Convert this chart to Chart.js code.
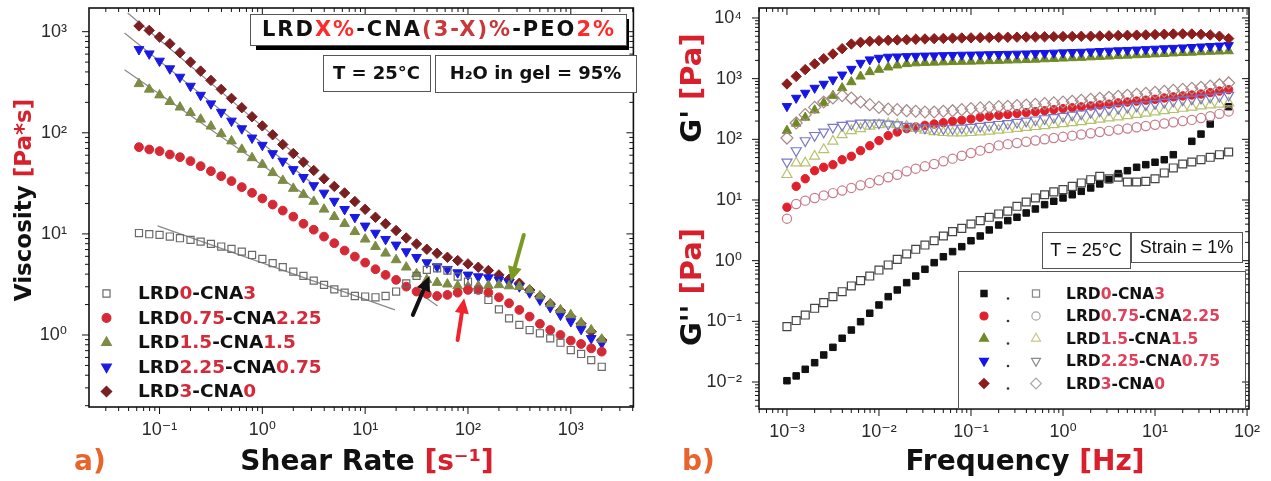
<!DOCTYPE html>
<html>
<head>
<meta charset="utf-8">
<script src="https://cdn.jsdelivr.net/npm/chart.js@4.4.1/dist/chart.umd.min.js"></script>
<style>
html, body { margin: 0; padding: 0; background: #fff; }
#wrap { position: relative; width: 1271px; height: 481px; overflow: hidden; }
#left { position: absolute; left: 0; top: 0; }
#right { position: absolute; left: 640px; top: 0; }
</style>
</head>
<body>
<div id="wrap">
  <canvas id="left" width="640" height="481"></canvas>
  <canvas id="right" width="631" height="481"></canvas>
</div>
<script>
// ---- panel a) viscosity vs shear rate ----
var shearRate = [0.0631, 0.0794, 0.1, 0.126, 0.158, 0.2, 0.251, 0.316, 0.398, 0.501, 0.631, 0.794, 1, 1.26, 1.58, 2, 2.51, 3.16, 3.98, 5.01, 6.31, 7.94, 10, 12.6, 15.8, 20, 25.1, 31.6, 39.8, 50.1, 63.1, 79.4, 100, 126, 158, 200, 251, 316, 398, 501, 631, 794, 1000, 1260, 1580, 2000];
var viscLRD0 = [10.2, 9.93, 9.77, 9.42, 9.06, 8.73, 8.39, 7.96, 7.50, 7.10, 6.68, 6.19, 5.65, 5.13, 4.68, 4.24, 3.84, 3.45, 3.13, 2.83, 2.62, 2.43, 2.40, 2.36, 2.43, 2.69, 3.24, 3.84, 4.41, 4.57, 4.34, 3.78, 3.37, 2.79, 2.22, 1.79, 1.46, 1.26, 1.12, 1.04, 0.927, 0.839, 0.710, 0.649, 0.565, 0.485];
var viscLRD075 = [72.1, 68.4, 65.9, 61.0, 57.4, 52.5, 46.8, 41.7, 37.2, 33.3, 29.0, 25.5, 22.4, 19.5, 17.0, 14.8, 12.6, 11.0, 9.40, 8.09, 6.84, 5.96, 5.20, 4.47, 3.93, 3.51, 3.01, 2.69, 2.55, 2.43, 2.49, 2.62, 2.79, 2.79, 2.62, 2.36, 2.06, 1.77, 1.52, 1.29, 1.12, 1.00, 0.879, 0.815, 0.738, 0.684];
var viscLRD15 = [305, 269, 236, 203, 179, 158, 136, 116, 97.7, 82.8, 68.4, 56.5, 48.5, 40.2, 33.7, 28.1, 24.5, 20.9, 17.5, 14.8, 12.6, 10.5, 8.85, 7.48, 6.43, 5.53, 4.68, 4.02, 3.51, 3.30, 3.18, 3.05, 3.01, 3.05, 3.08, 3.13, 3.05, 3.01, 2.79, 2.43, 2.03, 1.77, 1.58, 1.32, 1.12, 0.906];
var viscLRD225 = [668, 605, 513, 431, 356, 290, 236, 194, 160, 131, 110, 89.1, 75.5, 62.4, 52.5, 43.4, 36.3, 30.1, 25.4, 21.1, 17.5, 14.6, 12.0, 10.2, 8.85, 7.78, 6.68, 5.87, 5.20, 4.74, 4.47, 4.14, 3.93, 3.78, 3.69, 3.51, 3.30, 3.01, 2.62, 2.22, 1.88, 1.58, 1.36, 1.14, 0.927, 0.828];
var viscLRD3 = [1140, 1030, 885, 760, 619, 501, 408, 330, 269, 219, 177, 144, 117, 95.5, 76.6, 62.4, 51.3, 42.4, 35.1, 29.5, 25.4, 20.9, 17.5, 14.6, 12.6, 10.8, 9.12, 7.96, 7.05, 6.43, 5.87, 5.45, 5.05, 4.68, 4.34, 3.93, 3.56, 3.25, 2.79, 2.40, 2.03, 1.74, 1.52, 1.29, 1.08, 0.89];
// grey power-law guide lines [[x0, y0], [x1, y1]]
var fitLRD3 = [[0.049, 1530], [3, 45]];
var fitLRD225 = [[0.0456, 971], [3, 32]];
var fitLRD15 = [[0.0456, 421], [3, 22]];
var fitLRD0 = [[0.0957, 12.0], [19.5, 1.77]];
var fitShort = [[37.8, 2.39], [50.7, 1.94]];
// arrows [tail, head]
var arrowBlack = [[29.1, 1.58], [42.2, 3.83]];
var arrowRed = [[79.3, 0.893], [91.8, 2.31]];
var arrowGreen = [[349, 9.75], [261, 3.37]];
var shearTicks = [0.1, 1, 10, 100, 1000];
var viscTicks = [1, 10, 100, 1000];

// ---- panel b) G', G'' vs frequency ----
var freq = [0.001, 0.00126, 0.00158, 0.002, 0.00251, 0.00316, 0.00398, 0.00501, 0.00631, 0.00794, 0.01, 0.0126, 0.0158, 0.02, 0.0251, 0.0316, 0.0398, 0.0501, 0.0631, 0.0794, 0.1, 0.126, 0.158, 0.2, 0.251, 0.316, 0.398, 0.501, 0.631, 0.794, 1, 1.26, 1.58, 2, 2.51, 3.16, 3.98, 5.01, 6.31, 7.94, 10, 12.6, 15.8, 20, 25.1, 31.6, 39.8, 50.1, 63.1];
var gp0 = [0.0105, 0.0126, 0.0162, 0.0208, 0.0279, 0.0373, 0.0526, 0.0719, 0.0986, 0.136, 0.186, 0.255, 0.329, 0.434, 0.558, 0.721, 0.927, 1.16, 1.41, 1.70, 2.13, 2.55, 3.21, 3.87, 4.57, 5.19, 6.11, 7.11, 8.38, 9.53, 10.8, 12.2, 13.9, 15.8, 18.4, 21.6, 27.2, 30.4, 34.6, 38.2, 41.9, 46.1, 55.8, null, 92.7, 122, 179, null, 345];
var gpp0 = [0.0817, 0.103, 0.127, 0.164, 0.203, 0.255, 0.308, 0.383, 0.468, 0.558, 0.701, 0.849, 1.05, 1.29, 1.54, 1.81, 2.13, 2.55, 3.01, 3.41, 4.02, 4.56, 5.19, 5.89, 6.56, 7.87, 9.27, 10.8, 12.2, 13.6, 14.8, 16.8, 19.1, 21.6, 24.5, 22.4, 23.7, 19.8, 19.8, 20.3, 22.4, 27.9, 33.7, 39.2, 42.3, 46.1, 50.6, 55.8, 61.8];
var gp075 = [7.59, 16.8, 22.4, 30.4, 34.6, 38.2, 46.1, 52.5, 65.0, 78.5, 95.1, 115, 132, 150, 160, 170, 179, 188, 198, 206, 216, 231, 240, 249, 257, 266, 275, 285, 295, 308, 320, 331, 343, 355, 367, 380, 398, 412, 427, 442, 457, 480, 501, 519, 537, 558, 589, 624, 658];
var gpp075 = [4.92, 8.59, 9.75, 10.8, 11.9, 13.0, 14.3, 15.8, 17.5, 19.1, 21.1, 23.7, 26.1, 29.7, 32.8, 35.9, 39.2, 43.4, 48.0, 53.7, 59.6, 65.0, 71.9, 79.4, 83.2, 87.1, 91.2, 95.5, 100, 105, 110, 115, 120, 126, 132, 138, 145, 151, 158, 166, 174, 182, 191, 200, 209, 224, 240, 263, 288];
var gp15 = [139, 182, 229, 302, 398, 525, 702, 881, 1090, 1290, 1410, 1540, 1660, 1750, 1800, 1830, 1850, 1870, 1890, 1910, 1920, 1940, 1960, 1980, 2000, 2020, 2040, 2070, 2100, 2130, 2160, 2190, 2220, 2260, 2300, 2330, 2370, 2410, 2450, 2490, 2530, 2570, 2620, 2660, 2700, 2750, 2790, 2820, 2850];
var gpp15 = [26.2, 40.7, 40.7, 52.5, 67.6, 92.7, 119, 139, 150, 164, 174, 179, 174, 164, 151, 141, 133, 129, 127, 127, 129, 132, 136, 141, 146, 151, 157, 162, 168, 174, 181, 188, 195, 204, 214, 224, 234, 245, 257, 269, 282, 295, 309, 324, 339, 355, 367, 380, 398];
var gp225 = [350, 480, 581, 702, 817, 962, 1160, 1440, 1810, 2060, 2190, 2280, 2300, 2330, 2360, 2380, 2400, 2420, 2440, 2460, 2470, 2490, 2510, 2520, 2540, 2560, 2580, 2610, 2630, 2660, 2690, 2720, 2750, 2790, 2830, 2870, 2910, 2950, 2990, 3040, 3090, 3140, 3190, 3240, 3300, 3360, 3420, 3480, 3550];
var gpp225 = [42.3, 65.0, 95.1, 116, 132, 158, 170, 179, 186, 186, 186, 179, 174, 164, 158, 154, 150, 150, 150, 154, 158, 164, 170, 176, 182, 191, 200, 209, 219, 229, 240, 251, 263, 279, 295, 309, 324, 339, 355, 372, 389, 407, 427, 447, 462, 479, 495, 513, 532];
var gp3 = [817, 1090, 1410, 1750, 2130, 2550, 3120, 3720, 3970, 4130, 4230, 4290, 4340, 4390, 4460, 4510, 4560, 4600, 4650, 4680, 4700, 4730, 4760, 4790, 4810, 4830, 4850, 4880, 4900, 4920, 4940, 4970, 4990, 5010, 5050, 5080, 5130, 5180, 5220, 5270, 5330, 5400, 5450, 5470, 5450, 5370, 5250, 5010, 4570];
var gpp3 = [105, 186, 255, 337, 412, 480, 525, 479, 412, 372, 337, 316, 308, 296, 290, 282, 282, 290, 296, 308, 320, 329, 337, 345, 351, 359, 367, 376, 387, 398, 410, 424, 440, 457, 475, 494, 513, 532, 552, 573, 594, 617, 640, 664, 692, 721, 755, 794, 849];
var freqTicks = [0.001, 0.01, 0.1, 1, 10, 100];
var modTicks = [0.01, 0.1, 1, 10, 100, 1000, 10000];

var sampleNames = ['LRD0-CNA3', 'LRD0.75-CNA2.25', 'LRD1.5-CNA1.5', 'LRD2.25-CNA0.75', 'LRD3-CNA0'];

// ---------- helpers ----------
var supMap = {'-': '\u207B', '0': '\u2070', '1': '\u00B9', '2': '\u00B2', '3': '\u00B3', '4': '\u2074', '5': '\u2075', '6': '\u2076', '7': '\u2077', '8': '\u2078', '9': '\u2079'};
function pow10Label(v) {
  var e = Math.round(Math.log10(v));
  return '10' + String(e).split('').map(function (c) { return supMap[c]; }).join('');
}

function pts(xs, ys) {
  return xs.map(function (x, i) { return {x: x, y: ys[i]}; }).filter(function (p) { return p.y != null; });
}

function series(label, xs, ys, style, color, filled, r) {
  return {
    label: label, data: pts(xs, ys), showLine: false, order: 0,
    pointStyle: style === 'triDown' ? 'triangle' : style,
    pointRotation: style === 'triDown' ? 180 : 0,
    pointRadius: r, pointHoverRadius: r,
    pointBackgroundColor: filled ? color : 'rgba(0,0,0,0)',
    pointBorderColor: color, pointBorderWidth: filled ? 1 : 1.2
  };
}

function guide(line) {
  return {
    data: line.map(function (p) { return {x: p[0], y: p[1]}; }),
    showLine: true, borderColor: '#8a8a8a', borderWidth: 1.2, pointRadius: 0, order: 5
  };
}

function logAxis(min, max, ticks, pos, size, pad) {
  return {
    type: 'logarithmic', position: pos, min: min, max: max,
    grid: {display: false, drawTicks: false}, border: {display: false},
    afterBuildTicks: function (s) { s.ticks = ticks.map(function (v) { return {value: v}; }); },
    afterFit: function (s) {
      if (pos === 'left') s.width = size; else s.height = size;
      s.paddingTop = 0; s.paddingBottom = 0; s.paddingLeft = 0; s.paddingRight = 0;
    },
    ticks: {
      autoSkip: false, maxRotation: 0, padding: pad, color: '#2a2a2a',
      font: {family: "'Liberation Sans', 'DejaVu Sans'", size: 18},
      callback: function (v) { return pow10Label(v); }
    }
  };
}

function logMarks(scale) {
  var out = [];
  for (var e = Math.floor(Math.log10(scale.min)); e <= Math.ceil(Math.log10(scale.max)); e++) {
    for (var m = 1; m <= 9; m++) {
      var v = m * Math.pow(10, e);
      if (v >= scale.min && v <= scale.max) out.push([scale.getPixelForValue(v), m === 1]);
    }
  }
  return out;
}

var framePlugin = {
  id: 'frame',
  afterDatasetsDraw: function (chart) {
    var ctx = chart.ctx, a = chart.chartArea;
    ctx.save();
    ctx.strokeStyle = '#111';
    ctx.lineWidth = 1.6;
    ctx.strokeRect(a.left, a.top, a.right - a.left, a.bottom - a.top);
    ctx.lineWidth = 1;
    ctx.beginPath();
    logMarks(chart.scales.x).forEach(function (t) {
      var l = t[1] ? 7 : 4;
      ctx.moveTo(t[0], a.bottom); ctx.lineTo(t[0], a.bottom + l);
      ctx.moveTo(t[0], a.top); ctx.lineTo(t[0], a.top + l);
    });
    logMarks(chart.scales.y).forEach(function (t) {
      var l = t[1] ? 7 : 4;
      ctx.moveTo(a.left, t[0]); ctx.lineTo(a.left - l, t[0]);
      ctx.moveTo(a.right, t[0]); ctx.lineTo(a.right - l, t[0]);
    });
    ctx.stroke();
    ctx.restore();
  }
};

function textRuns(ctx, runs, x, y, align) {
  var total = 0;
  runs.forEach(function (r) { total += ctx.measureText(r[0]).width; });
  var cx = align === 'center' ? x - total / 2 : x;
  ctx.textAlign = 'left';
  runs.forEach(function (r) {
    ctx.fillStyle = r[1];
    ctx.fillText(r[0], cx, y);
    cx += ctx.measureText(r[0]).width;
  });
}

function nameRuns(name, numColor) {
  return name.match(/[A-Za-z\-]+|[0-9.]+/g).map(function (p) {
    return [p, /[0-9]/.test(p) ? numColor : '#111'];
  });
}

function drawMarker(ctx, style, x, y, r, color, filled) {
  ctx.beginPath();
  if (style === 'circle') ctx.arc(x, y, r, 0, 2 * Math.PI);
  else if (style === 'rect') { var s = r * Math.SQRT1_2; ctx.rect(x - s, y - s, 2 * s, 2 * s); }
  else if (style === 'rectRot') { ctx.moveTo(x, y - r); ctx.lineTo(x + r, y); ctx.lineTo(x, y + r); ctx.lineTo(x - r, y); ctx.closePath(); }
  else {
    var d = style === 'triDown' ? -1 : 1;
    ctx.moveTo(x, y - d * r); ctx.lineTo(x + r * 0.866, y + d * r / 2); ctx.lineTo(x - r * 0.866, y + d * r / 2); ctx.closePath();
  }
  if (filled) { ctx.fillStyle = color; ctx.fill(); }
  ctx.strokeStyle = color; ctx.lineWidth = 1.2; ctx.stroke();
}

function drawArrow(ctx, xs, ys, arr, color) {
  var x0 = xs.getPixelForValue(arr[0][0]), y0 = ys.getPixelForValue(arr[0][1]);
  var x1 = xs.getPixelForValue(arr[1][0]), y1 = ys.getPixelForValue(arr[1][1]);
  var ang = Math.atan2(y1 - y0, x1 - x0), hl = 15, hw = 7;
  ctx.strokeStyle = color; ctx.fillStyle = color; ctx.lineWidth = 4; ctx.lineCap = 'round';
  ctx.beginPath(); ctx.moveTo(x0, y0); ctx.lineTo(x1 - Math.cos(ang) * hl * 0.8, y1 - Math.sin(ang) * hl * 0.8); ctx.stroke();
  ctx.beginPath(); ctx.moveTo(x1, y1);
  ctx.lineTo(x1 - hl * Math.cos(ang) + hw * Math.sin(ang), y1 - hl * Math.sin(ang) - hw * Math.cos(ang));
  ctx.lineTo(x1 - hl * Math.cos(ang) - hw * Math.sin(ang), y1 - hl * Math.sin(ang) + hw * Math.cos(ang));
  ctx.closePath(); ctx.fill();
}

function boxText(ctx, x, y, w, h, text, font) {
  ctx.fillStyle = '#fff'; ctx.fillRect(x, y, w, h);
  ctx.strokeStyle = '#555'; ctx.lineWidth = 1; ctx.strokeRect(x + 0.5, y + 0.5, w, h);
  ctx.font = font; ctx.fillStyle = '#111'; ctx.textAlign = 'center'; ctx.textBaseline = 'middle';
  ctx.fillText(text, x + w / 2, y + h / 2 + 1);
}

var RED = '#d8202c';

// ---------- panel a ----------
var stylesA = [
  ['rect', '#6a6a6a', false, 5], ['circle', '#d42a35', true, 4.4], ['triangle', '#7d8b45', true, 5.6],
  ['triDown', '#1a1ae0', true, 5.6], ['rectRot', '#7a1f22', true, 5.2]
];
var viscSeries = [viscLRD0, viscLRD075, viscLRD15, viscLRD225, viscLRD3];

var panelA = {
  id: 'panelA',
  afterDraw: function (chart) {
    var ctx = chart.ctx, xs = chart.scales.x, ys = chart.scales.y;
    ctx.save();
    drawArrow(ctx, xs, ys, arrowBlack, '#111');
    drawArrow(ctx, xs, ys, arrowRed, '#f0242c');
    drawArrow(ctx, xs, ys, arrowGreen, '#7a9a24');

    // composition box with shadow
    ctx.fillStyle = '#000'; ctx.fillRect(256, 19, 373, 31);
    ctx.fillStyle = '#fff'; ctx.fillRect(250, 14, 377, 31);
    ctx.strokeStyle = '#555'; ctx.lineWidth = 1; ctx.strokeRect(250.5, 14.5, 376, 31);
    ctx.font = 'bold 21px "DejaVu Sans"'; ctx.textBaseline = 'middle';
    ctx.letterSpacing = '2px';
    textRuns(ctx, [['LRD', '#111'], ['X%', '#ff2b2b'], ['-CNA', '#111'], ['(3-X)%', '#c8383a'], ['-PEO', '#111'], ['2%', '#ff2b2b']], 439, 31, 'center');
    ctx.letterSpacing = '0px';
    boxText(ctx, 323, 55, 107, 36, 'T = 25\u00B0C', 'bold 18px "DejaVu Sans"');
    boxText(ctx, 435, 55, 201, 37, 'H\u2082O in gel = 95%', 'bold 18px "DejaVu Sans"');

    // legend
    ctx.textBaseline = 'middle';
    sampleNames.forEach(function (n, k) {
      var y = 293.5 + k * 24.5, st = stylesA[k];
      drawMarker(ctx, st[0], 106.5, y, st[3], st[1], st[2]);
      ctx.font = 'bold 18.5px "DejaVu Sans"';
      textRuns(ctx, nameRuns(n, '#d42a3a'), 138, y + 1, 'left');
    });

    // axis titles
    ctx.font = 'bold 28px "DejaVu Sans"'; ctx.textBaseline = 'middle';
    textRuns(ctx, [['Shear Rate ', '#111'], ['[s\u207B\u00B9]', RED]], 367, 463, 'center');
    ctx.fillStyle = '#e8642c'; ctx.textAlign = 'left';
    ctx.fillText('a)', 74, 463);
    ctx.translate(25, 200); ctx.rotate(-Math.PI / 2);
    ctx.font = 'bold 23px "DejaVu Sans"';
    textRuns(ctx, [['Viscosity ', '#111'], ['[Pa*s]', RED]], 0, 0, 'center');
    ctx.restore();
  }
};

var dsA = [guide(fitLRD3), guide(fitLRD225), guide(fitLRD15), guide(fitLRD0), guide(fitShort)];
sampleNames.forEach(function (n, k) {
  var st = stylesA[k];
  dsA.push(series(n, shearRate, viscSeries[k], st[0], st[1], st[2], st[3]));
});

new Chart(document.getElementById('left'), {
  type: 'scatter',
  data: {datasets: dsA},
  options: {
    responsive: false, animation: false,
    layout: {padding: {top: 8, right: 3, left: 0, bottom: 0}},
    plugins: {legend: {display: false}, tooltip: {enabled: false}},
    scales: {
      x: logAxis(0.0206, 4065, shearTicks, 'bottom', 74, 12),
      y: logAxis(0.194, 1715, viscTicks, 'left', 89, 22)
    }
  },
  plugins: [framePlugin, panelA]
});

// ---------- panel b ----------
var filledB = [['rect', '#111', 4.6], ['circle', '#e0202a', 4.2], ['triangle', '#6f8a25', 5.4], ['triDown', '#1515e6', 5.4], ['rectRot', '#8b1d1d', 5.2]];
var openB = [['rect', '#444', 5.6], ['circle', '#c87c8c', 4.6], ['triangle', '#b8c26e', 5.8], ['triDown', '#7878c8', 5.8], ['rectRot', '#a88a8a', 6]];
var openLegend = ['#8a8a8a', '#a8a8a8', '#c8c888', '#8a8a8a', '#a8a8a8'];
var gpSeries = [gp0, gp075, gp15, gp225, gp3];
var gppSeries = [gpp0, gpp075, gpp15, gpp225, gpp3];

var panelB = {
  id: 'panelB',
  afterDraw: function (chart) {
    var ctx = chart.ctx;
    ctx.save();
    boxText(ctx, 402, 232, 88, 36, 'T = 25\u00B0C', '18px "Liberation Sans"');
    boxText(ctx, 491, 232, 111, 30, 'Strain = 1%', '18px "Liberation Sans"');
    ctx.strokeStyle = '#555'; ctx.lineWidth = 1; ctx.strokeRect(318.5, 271.5, 287, 137);
    sampleNames.forEach(function (n, k) {
      var y = 293.5 + k * 22.5, f = filledB[k], o = openB[k];
      drawMarker(ctx, f[0], 344, y, f[2] * 0.95, f[1], true);
      ctx.fillStyle = '#333'; ctx.beginPath(); ctx.arc(368, y + 5, 1.3, 0, 2 * Math.PI); ctx.fill();
      drawMarker(ctx, o[0], 396, y, o[2] * 0.9, openLegend[k], false);
      ctx.font = 'bold 15.5px "DejaVu Sans"'; ctx.textBaseline = 'middle';
      textRuns(ctx, nameRuns(n, '#e0405a'), 426, y + 1, 'left');
    });

    ctx.font = 'bold 28px "DejaVu Sans"'; ctx.textBaseline = 'middle';
    textRuns(ctx, [['Frequency ', '#111'], ['[Hz]', RED]], 385, 463, 'center');
    ctx.fillStyle = '#e8642c'; ctx.textAlign = 'left';
    ctx.fillText('b)', 42, 463);
    ctx.font = 'bold 29px "DejaVu Sans"';
    ctx.save(); ctx.translate(53, 88); ctx.rotate(-Math.PI / 2);
    textRuns(ctx, [["G' ", '#111'], ['[Pa]', RED]], 0, 0, 'center');
    ctx.restore();
    ctx.save(); ctx.translate(53, 287); ctx.rotate(-Math.PI / 2);
    textRuns(ctx, [["G'' ", '#111'], ['[Pa]', RED]], 0, 0, 'center');
    ctx.restore();
    ctx.restore();
  }
};

var dsB = [];
sampleNames.forEach(function (n, k) {
  var f = filledB[k], o = openB[k];
  dsB.push(series("G' " + n, freq, gpSeries[k], f[0], f[1], true, f[2]));
  dsB.push(series("G'' " + n, freq, gppSeries[k], o[0], o[1], false, o[2]));
});
dsB.reverse();

new Chart(document.getElementById('right'), {
  type: 'scatter',
  data: {datasets: dsB},
  options: {
    responsive: false, animation: false,
    layout: {padding: {top: 8, right: 22, left: 0, bottom: 0}},
    plugins: {legend: {display: false}, tooltip: {enabled: false}},
    scales: {
      x: logAxis(0.000497, 105, freqTicks, 'bottom', 72, 12),
      y: logAxis(0.00359, 14600, modTicks, 'left', 119, 17)
    }
  },
  plugins: [framePlugin, panelB]
});
</script>
</body>
</html>
